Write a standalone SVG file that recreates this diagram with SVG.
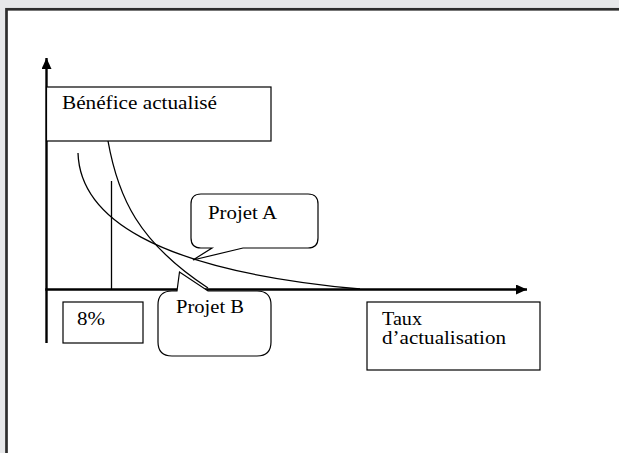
<svg xmlns="http://www.w3.org/2000/svg" width="619" height="453" viewBox="0 0 619 453">
<defs>
<style>
.box{fill:#fff;stroke:#000;stroke-width:1.2}
.curve{fill:none;stroke:#000;stroke-width:1.3}
.axis{fill:none;stroke:#000;stroke-width:2.4}
text{font-family:"Liberation Serif","Times New Roman",serif;font-size:18px;fill:#000}
</style>
<marker id="arr" markerWidth="11" markerHeight="10" refX="11" refY="5" orient="auto" markerUnits="userSpaceOnUse">
<path d="M0,0 L11,5 L0,10 Z" fill="#000"/>
</marker>
</defs>
<rect x="0" y="0" width="619" height="453" fill="#e7e8ea"/>
<rect x="6.5" y="9.3" width="640" height="480" fill="#fff" stroke="#2e2e2e" stroke-width="2.7"/>

<g id="connectors">
<line class="axis" x1="46.5" y1="343" x2="46.5" y2="58" marker-end="url(#arr)"/>
<line class="axis" x1="45.3" y1="289.5" x2="527" y2="289.5" marker-end="url(#arr)"/>
<line class="curve" x1="111.5" y1="181" x2="111.5" y2="289"/>
<path id="curveB" class="curve" d="M108,141 C118,197 138,242 208,288"/>
<path id="curveA" class="curve" d="M78,153 C80,215 150,270 360,289"/>
</g>

<g id="benefice">
<rect class="box" x="46.5" y="87" width="224.5" height="54"/>
<text x="62" y="109" textLength="155" lengthAdjust="spacingAndGlyphs">Bénéfice actualisé</text>
</g>

<g id="projetA">
<path class="box" d="M201,194 H308 Q318,194 318,204 V238 Q318,248 308,248 H243 L193,260 L212,248 H201 Q191,248 191,238 V204 Q191,194 201,194 Z"/>
<text x="208" y="219" textLength="69" lengthAdjust="spacingAndGlyphs">Projet A</text>
</g>

<g id="projetB">
<path class="box" d="M172,291 H177 L179.5,272 L208,291 H257 Q271,291 271,305 V342 Q271,356 257,356 H172 Q158,356 158,342 V305 Q158,291 172,291 Z"/>
<text x="176" y="313" textLength="68" lengthAdjust="spacingAndGlyphs">Projet B</text>
</g>

<g id="pct">
<rect class="box" x="63" y="302" width="80" height="41"/>
<text x="77" y="325" textLength="28" lengthAdjust="spacingAndGlyphs">8%</text>
</g>

<g id="taux">
<rect class="box" x="367" y="302" width="173" height="68"/>
<text x="382" y="325" textLength="40" lengthAdjust="spacingAndGlyphs">Taux</text>
<text x="382" y="344" textLength="124" lengthAdjust="spacingAndGlyphs">d’actualisation</text>
</g>
</svg>
